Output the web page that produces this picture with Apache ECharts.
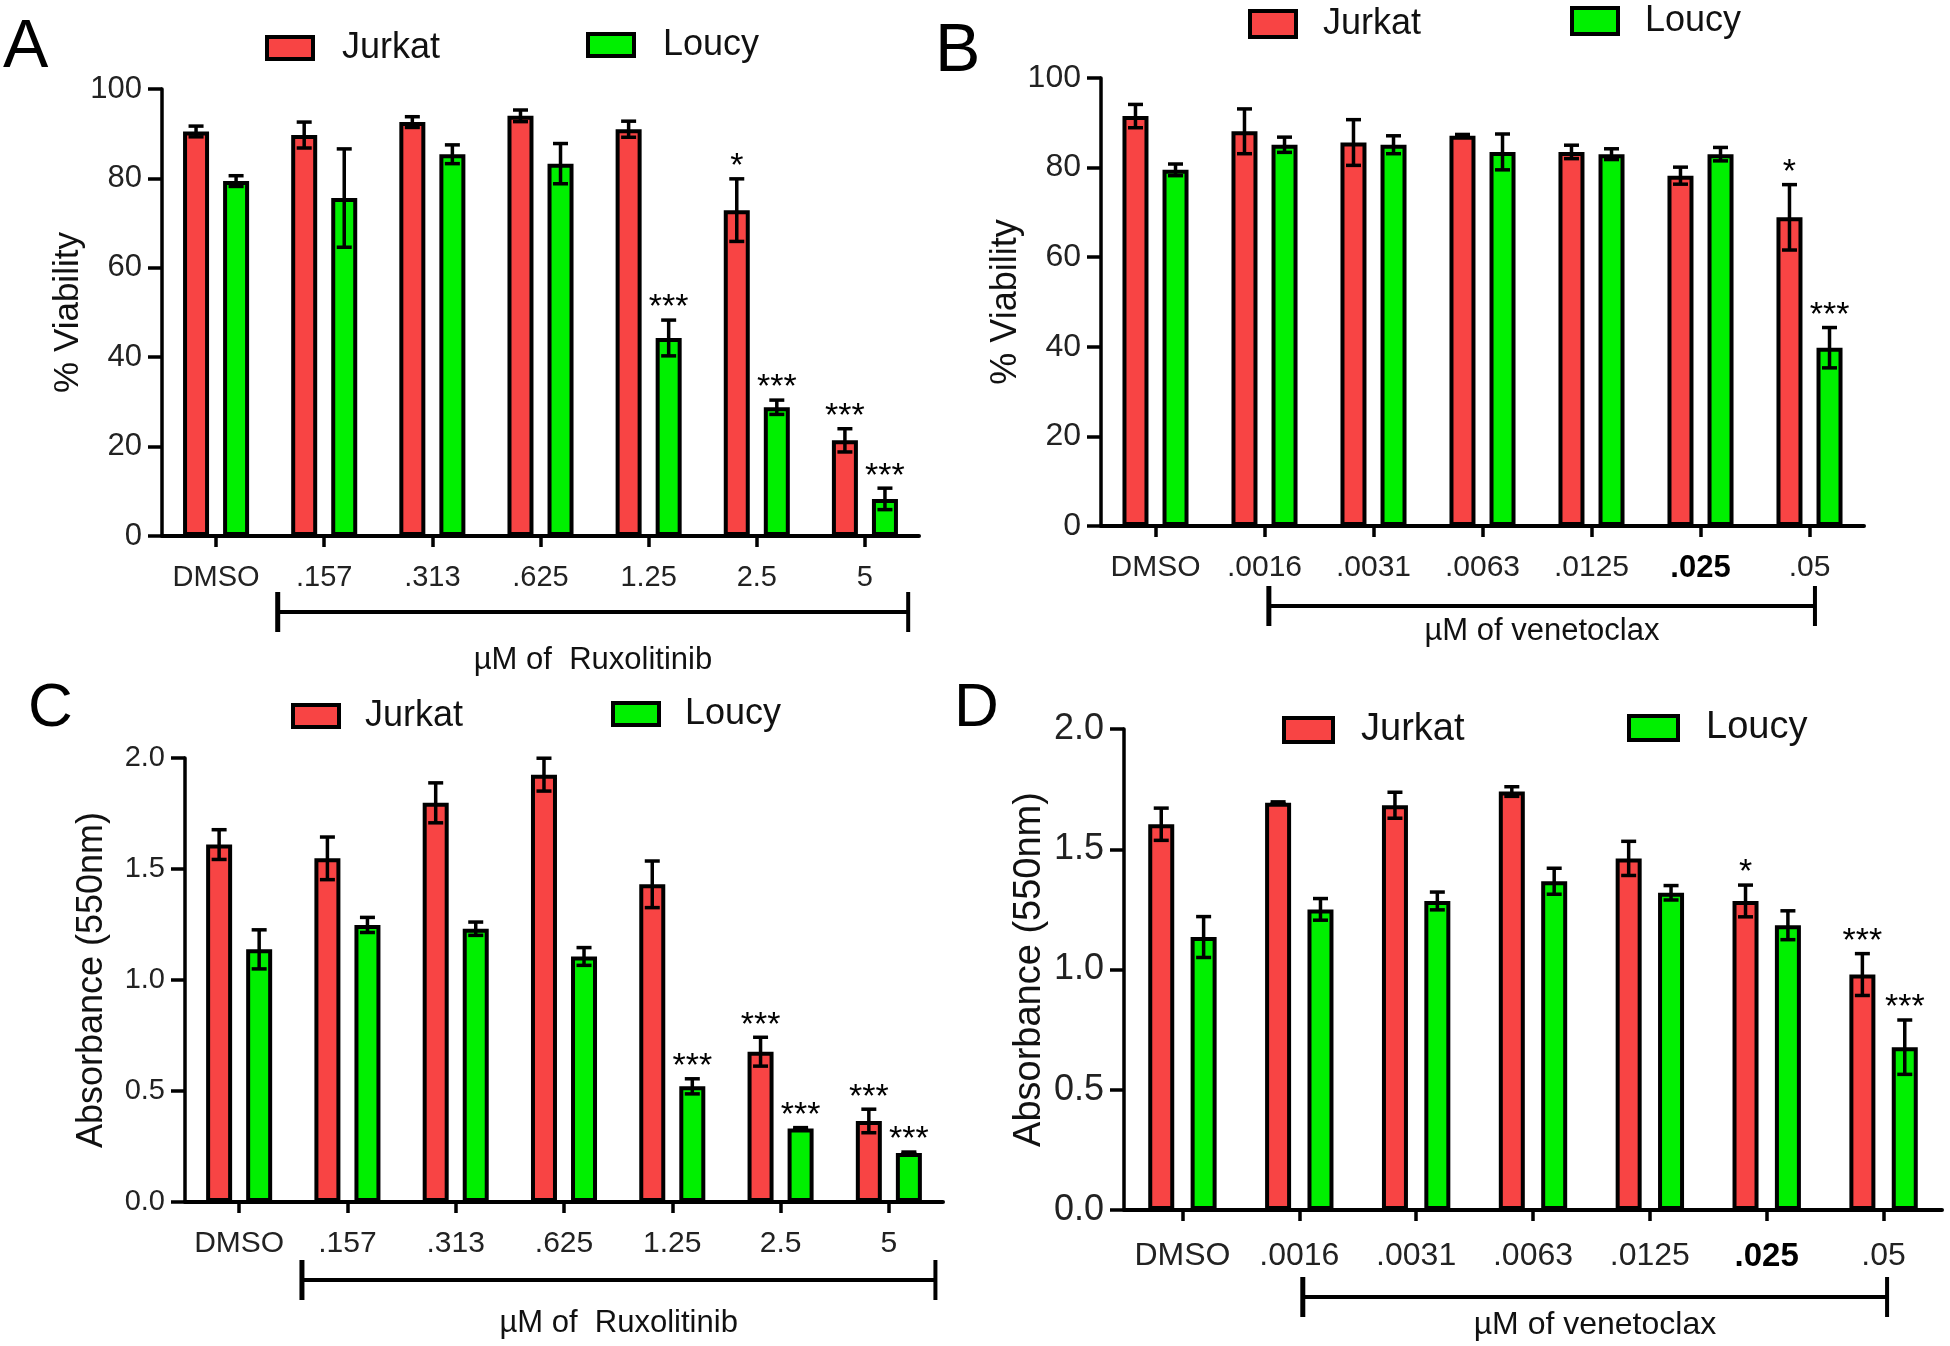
<!DOCTYPE html>
<html><head><meta charset="utf-8">
<script src="https://cdn.jsdelivr.net/npm/echarts@6/dist/echarts.min.js"></script>
<style>html,body{margin:0;padding:0;background:#fff}#c{width:1950px;height:1346px}</style>
</head><body><div id="c"></div>
<script>
const FONT = '"Liberation Sans", Arial, Helvetica, sans-serif';
const RED = '#F84444';
const GREEN = '#00F000';

// ---- categories ----
const catsRux = ['DMSO', '.157', '.313', '.625', '1.25', '2.5', '5'];
const catsVen = ['DMSO', '.0016', '.0031', '.0063', '.0125', '.025', '.05'];

// ---- Panel A: % viability, ruxolitinib ----
const aJurkat    = [90.5, 89.7, 92.6, 94.0, 91.0, 72.9, 21.4];
const aJurkatErr = [1.2, 2.9, 1.2, 1.3, 1.8, 7.0, 2.6];
const aJurkatSig = ['', '', '', '', '', '*', '***'];
const aLoucy     = [79.4, 75.6, 85.4, 83.3, 44.3, 28.8, 8.3];
const aLoucyErr  = [1.2, 11.0, 2.1, 4.5, 4.0, 1.6, 2.4];
const aLoucySig  = ['', '', '', '', '***', '***', '***'];

// ---- Panel B: % viability, venetoclax ----
const bJurkat    = [91.5, 88.1, 85.6, 87.1, 83.5, 78.2, 68.9];
const bJurkatErr = [2.6, 5.0, 5.1, 0.3, 1.5, 1.9, 7.3];
const bJurkatSig = ['', '', '', '', '', '', '*'];
const bLoucy     = [79.5, 85.1, 85.1, 83.5, 83.0, 83.0, 39.8];
const bLoucyErr  = [1.3, 1.7, 2.0, 4.0, 1.2, 1.5, 4.5];
const bLoucySig  = ['', '', '', '', '', '', '***'];

// ---- Panel C: absorbance, ruxolitinib ----
const cJurkat    = [1.61, 1.548, 1.798, 1.925, 1.431, 0.677, 0.365];
const cJurkatErr = [0.067, 0.096, 0.09, 0.074, 0.105, 0.065, 0.053];
const cJurkatSig = ['', '', '', '', '', '***', '***'];
const cLoucy     = [1.138, 1.248, 1.231, 1.106, 0.521, 0.331, 0.221];
const cLoucyErr  = [0.088, 0.034, 0.03, 0.04, 0.034, 0.004, 0.004];
const cLoucySig  = ['', '', '', '', '***', '***', '***'];

// ---- Panel D: absorbance, venetoclax ----
const dJurkat    = [1.604, 1.693, 1.683, 1.74, 1.462, 1.285, 0.979];
const dJurkatErr = [0.067, 0.004, 0.054, 0.02, 0.071, 0.066, 0.087];
const dJurkatSig = ['', '', '', '', '', '*', '***'];
const dLoucy     = [1.135, 1.25, 1.285, 1.367, 1.319, 1.184, 0.677];
const dLoucyErr  = [0.085, 0.045, 0.037, 0.054, 0.03, 0.06, 0.113];
const dLoucySig  = ['', '', '', '', '', '', '***'];

// ---- tick settings ----
const viabTicks = {min: 0, max: 100, interval: 20, dec: 0};
const absTicks  = {min: 0, max: 2, interval: 0.5, dec: 1};

const panels = [
  {key: 'A', cats: catsRux, J: aJurkat, Je: aJurkatErr, Js: aJurkatSig, Lc: aLoucy, Le: aLoucyErr, Ls: aLoucySig,
   ticks: viabTicks, yName: '% Viability', xTitle: 'µM of  Ruxolitinib',
   lay: {grid: {left: 162, top: 89, width: 757, height: 447}, yFont: 31, xFont: 29, yNameFont: 35, yNameGap: 76,
         gap: '54%', letter: [3, 48, 68], legJ: [265, 48, 36], legL: [586, 45, 36], legW: 46, legH: 22, legPad: 24,
         br: [0.57, 6.4, 76], titleDy: 48, titleFont: 31, xMargin: 27}},
  {key: 'B', cats: catsVen, J: bJurkat, Je: bJurkatErr, Js: bJurkatSig, Lc: bLoucy, Le: bLoucyErr, Ls: bLoucySig,
   ticks: viabTicks, yName: '% Viability', xTitle: 'µM of venetoclax',
   lay: {grid: {left: 1101, top: 78, width: 763, height: 448}, yFont: 32, xFont: 30, yNameFont: 36, yNameGap: 73,
         gap: '54%', letter: [935, 52, 68], legJ: [1248, 24, 36], legL: [1570, 21, 36], legW: 46, legH: 26, legPad: 22,
         br: [1.04, 6.05, 80], titleDy: 25, titleFont: 31, xMargin: 27}},
  {key: 'C', cats: catsRux, J: cJurkat, Je: cJurkatErr, Js: cJurkatSig, Lc: cLoucy, Le: cLoucyErr, Ls: cLoucySig,
   ticks: absTicks, yName: 'Absorbance (550nm)', xTitle: 'µM of  Ruxolitinib',
   lay: {grid: {left: 185, top: 758, width: 758, height: 444}, yFont: 29, xFont: 30, yNameFont: 36, yNameGap: 75,
         gap: '54%', letter: [28, 709, 62], legJ: [291, 716, 36], legL: [611, 714, 36], legW: 46, legH: 22, legPad: 21,
         br: [0.58, 6.43, 78], titleDy: 43, titleFont: 31, xMargin: 27}},
  {key: 'D', cats: catsVen, J: dJurkat, Je: dJurkatErr, Js: dJurkatSig, Lc: dLoucy, Le: dLoucyErr, Ls: dLoucySig,
   ticks: absTicks, yName: 'Absorbance (550nm)', xTitle: 'µM of venetoclax',
   lay: {grid: {left: 1124, top: 729, width: 818, height: 481}, yFont: 36, xFont: 32, yNameFont: 38, yNameGap: 75,
         gap: '63%', letter: [954, 709, 62], legJ: [1282, 730, 38], legL: [1627, 728, 38], legW: 49, legH: 24, legPad: 23,
         br: [1.03, 6.03, 87], titleDy: 28, titleFont: 32, xMargin: 30}}
];

const BAR_W = 26;

function errSeries(pi, name, vals, errs, sigs, off) {
  return {
    type: 'custom', name: name + ' SEM', xAxisIndex: pi, yAxisIndex: pi, z: 5,
    data: vals.map((v, i) => [i, v, errs[i]]),
    encode: {x: 0, y: 1},
    renderItem: (params, api) => {
      const i = api.value(0), v = api.value(1), e = api.value(2);
      const pt = api.coord([i, v]);
      const hi = api.coord([i, v + e]), lo = api.coord([i, v - e]);
      const x = pt[0] + off;
      const s = {stroke: '#000', lineWidth: 3.5};
      const cap = 7.5;
      const ch = [
        {type: 'line', shape: {x1: x, y1: hi[1], x2: x, y2: lo[1]}, style: s},
        {type: 'line', shape: {x1: x - cap, y1: hi[1], x2: x + cap, y2: hi[1]}, style: s},
        {type: 'line', shape: {x1: x - cap, y1: lo[1], x2: x + cap, y2: lo[1]}, style: s}
      ];
      const sig = sigs[i];
      if (sig) ch.push({type: 'text', style: {text: sig, x: x, y: hi[1] - 12, align: 'center',
        verticalAlign: 'middle', font: '34px ' + FONT, fill: '#000'}});
      return {type: 'group', children: ch};
    }
  };
}

const option = {animation: false, backgroundColor: '#fff', grid: [], xAxis: [], yAxis: [], series: [], legend: []};

panels.forEach((p, pi) => {
  const L = p.lay;
  option.grid.push(Object.assign({}, L.grid));
  option.xAxis.push({
    type: 'category', gridIndex: pi, data: p.cats,
    axisLine: {show: true, lineStyle: {color: '#000', width: 4}},
    axisTick: {show: true, alignWithLabel: true, interval: 0, length: 11, lineStyle: {color: '#000', width: 3.5}},
    axisLabel: {color: '#222', fontFamily: FONT, fontSize: L.xFont, margin: L.xMargin, interval: 0, hideOverlap: false,
      formatter: v => v === '.025' ? '{b|.025}' : v,
      rich: {b: {fontWeight: 'bold', fontSize: L.xFont + 1, fontFamily: FONT, color: '#000'}}},
    splitLine: {show: false}
  });
  option.yAxis.push({
    type: 'value', gridIndex: pi, min: p.ticks.min, max: p.ticks.max, interval: p.ticks.interval,
    name: p.yName, nameLocation: 'middle', nameGap: L.yNameGap, nameRotate: 90,
    nameTextStyle: {fontFamily: FONT, fontSize: L.yNameFont, color: '#111'},
    axisLine: {show: true, lineStyle: {color: '#000', width: 3.5}},
    axisTick: {show: true, length: 14, lineStyle: {color: '#000', width: 3.5}},
    axisLabel: {color: '#222', fontFamily: FONT, fontSize: L.yFont, margin: 20,
      formatter: v => v.toFixed(p.ticks.dec)},
    splitLine: {show: false}
  });
  const barBase = {type: 'bar', xAxisIndex: pi, yAxisIndex: pi, barWidth: BAR_W, barGap: L.gap};
  option.series.push(Object.assign({}, barBase, {name: 'Jurkat', data: p.J,
    itemStyle: {color: RED, borderColor: '#000', borderWidth: 4}}));
  option.series.push(Object.assign({}, barBase, {name: 'Loucy', data: p.Lc,
    itemStyle: {color: GREEN, borderColor: '#000', borderWidth: 4}}));
  const off = (BAR_W + BAR_W * parseFloat(L.gap) / 100) / 2;
  option.series.push(errSeries(pi, 'Jurkat', p.J, p.Je, p.Js, -off));
  option.series.push(errSeries(pi, 'Loucy', p.Lc, p.Le, p.Ls, off));
  [['Jurkat', L.legJ], ['Loucy', L.legL]].forEach(([nm, pos]) => {
    option.legend.push({
      data: [nm], left: pos[0], top: pos[1] - Math.max(L.legH, pos[2]) / 2, padding: 0,
      icon: 'rect', itemWidth: L.legW, itemHeight: L.legH, selectedMode: false,
      itemStyle: {borderColor: '#000', borderWidth: 4},
      formatter: '{t|' + nm + '}',
      textStyle: {rich: {t: {fontFamily: FONT, fontSize: pos[2], color: '#111', padding: [0, 0, 0, L.legPad]}}}
    });
  });
});

const chart = echarts.init(document.getElementById('c'), null, {renderer: 'canvas'});
chart.setOption(option);

const graphics = [];
panels.forEach((p, pi) => {
  const L = p.lay;
  graphics.push({type: 'text', x: L.letter[0], y: L.letter[1],
    style: {text: p.key, font: L.letter[2] + 'px ' + FONT, fill: '#000', verticalAlign: 'middle', align: 'left'}});
  const c0 = chart.convertToPixel({gridIndex: pi}, [0, 0]);
  const c1 = chart.convertToPixel({gridIndex: pi}, [1, 0]);
  const step = c1[0] - c0[0];
  const xl = c0[0] + L.br[0] * step, xr = c0[0] + L.br[1] * step;
  const yb = c0[1] + L.br[2];
  const st = {stroke: '#000', lineWidth: 4};
  graphics.push({type: 'line', shape: {x1: xl, y1: yb, x2: xr, y2: yb}, style: st});
  graphics.push({type: 'line', shape: {x1: xl, y1: yb - 20, x2: xl, y2: yb + 20}, style: {stroke: '#000', lineWidth: 5}});
  graphics.push({type: 'line', shape: {x1: xr, y1: yb - 20, x2: xr, y2: yb + 20}, style: {stroke: '#000', lineWidth: 4}});
  graphics.push({type: 'text', x: (xl + xr) / 2, y: yb + L.titleDy,
    style: {text: p.xTitle, font: L.titleFont + 'px ' + FONT, fill: '#111', align: 'center', verticalAlign: 'middle'}});
});
chart.setOption({graphic: graphics});
</script></body></html>
